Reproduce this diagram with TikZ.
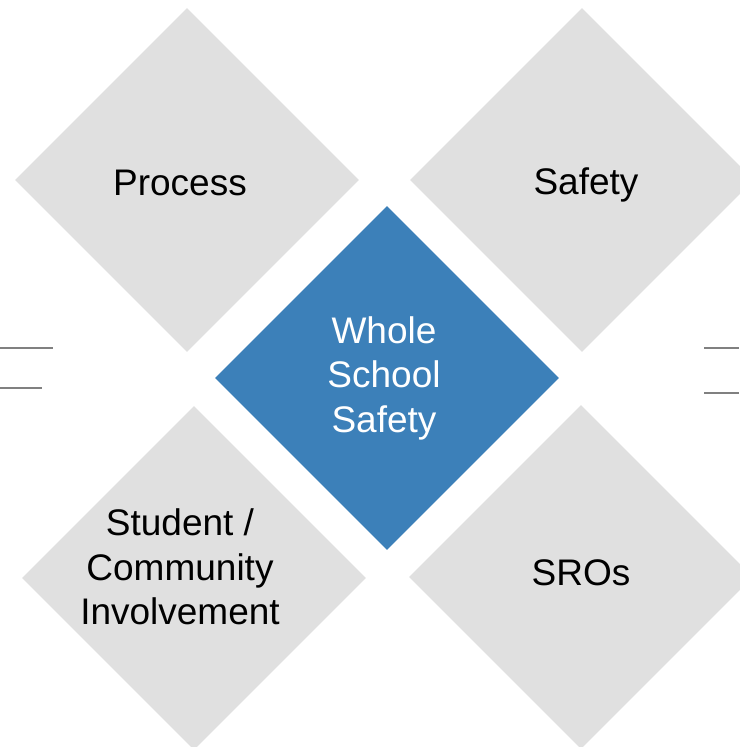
\documentclass[tikz,border=0pt]{standalone}
\usepackage{fontspec}
\setmainfont{Liberation Sans}
\usetikzlibrary{shapes.geometric}
\definecolor{paleGray}{HTML}{E0E0E0}
\definecolor{coreBlue}{HTML}{3C80B9}
\definecolor{ruleGray}{HTML}{808080}
\tikzset{
  pillar/.style={diamond, aspect=1, inner sep=0pt, minimum width=344pt,
    minimum height=344pt, fill=paleGray}, % the four outer tiles
  core/.style={pillar, fill=coreBlue}, % the middle tile
  caption/.style={align=center, inner sep=0pt, text=black,
    font=\fontsize{37}{44.5}\selectfont},
  tick/.style={draw=ruleGray, line width=1.5pt}
}
\begin{document}
\begin{tikzpicture}[x=1pt,y=-1pt]
    \useasboundingbox (0,0) rectangle (739,747);

    \node[core] (whole) at (387,378) {};
    \node[pillar] (process) at (187,180) {};
    \node[pillar] (safety) at (582,180) {};
    \node[pillar] (student) at (194,578) {};
    \node[pillar] (sros) at (581,577) {};

    % texts sit a little off the tile centres
    \node[caption, text=white] (wholetext) at ([shift={(-3,0)}]whole.center) {Whole\\School\\Safety};
    \node[caption] (processtext) at ([shift={(-7,3)}]process.center) {Process};
    \node[caption] (safetytext) at ([shift={(4,5)}]safety.center) {Safety};
    \node[caption] (studenttext) at ([shift={(-14,-11)}]student.center) {Student /\\Community\\Involvement};
    \node[caption] (srostext) at ([shift={(0,-4)}]sros.center) {SROs};

    % short rules at the edges
    \coordinate (l1a) at (0,348);   \coordinate (l1b) at (53,348);
    \coordinate (l2a) at (0,388);   \coordinate (l2b) at (42,388);
    \coordinate (r1a) at (704,348); \coordinate (r1b) at (739,348);
    \coordinate (r2a) at (704,393); \coordinate (r2b) at (739,393);
    \draw[tick] (l1a) -- (l1b);
    \draw[tick] (l2a) -- (l2b);
    \draw[tick] (r1a) -- (r1b);
    \draw[tick] (r2a) -- (r2b);

  \end{tikzpicture}
\end{document}
